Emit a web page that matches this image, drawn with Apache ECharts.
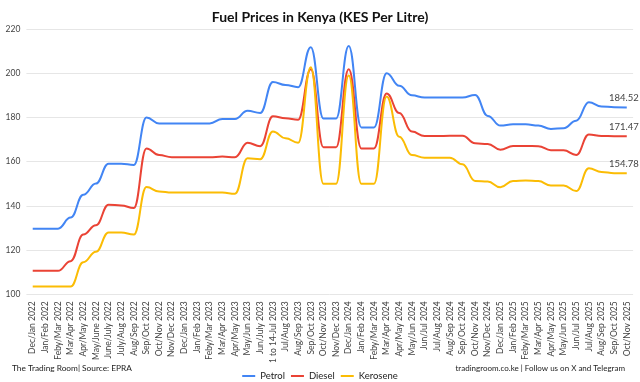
<!DOCTYPE html>
<html>
<head>
<meta charset="utf-8">
<script src="https://cdn.jsdelivr.net/npm/echarts@6/dist/echarts.min.js"></script>
<style>
html,body{margin:0;padding:0;background:#fff;}
#chart{width:640px;height:382px;}
</style>
</head>
<body>
<div id="chart"></div>
<script>
const categories = [
  "Dec/Jan 2022","Jan/Feb 2022","Feby/Mar 2022","Mar/Apr 2022","Apr/May 2022","May/June 2022",
  "June/July 2022","July/Aug 2022","Aug/Sep 2022","Sep/Oct 2022","Oct/Nov 2022","Nov/Dec 2022",
  "Dec/Jan 2023","Jan/Feb 2023","Feby/Mar 2023","Mar/Apr 2023","Apr/May 2023","May/Jun 2023",
  "Jun/July 2023","1 to 14-Jul 2023","Jul/Aug 2023","Aug/Sep 2023","Sep/Oct 2023","Oct/Nov 2023",
  "Nov/Dec 2023","Dec/Jan 2024","Jan/Feb 2024","Feby/Mar 2024","Mar/Apr 2024","Apr/May 2024",
  "May/Jun 2024","Jun/Jul 2024","Jul/Aug 2024","Aug/Sep 2024","Sep/Oct 2024","Oct/Nov 2024",
  "Nov/Dec 2024","Dec/Jan 2025","Jan/Feb 2025","Feby/Mar 2025","Mar/Apr 2025","Apr/May 2025",
  "May/Jun 2025","Jun/Jul 2025","Jul/Aug 2025","Aug/Sep 2025","Sep/Oct 2025","Oct/Nov 2025"
];
const petrol = [
  129.7,129.7,129.7,134.7,145.0,150.1,159.1,159.1,158.5,180.0,177.3,177.3,
  177.3,177.3,177.3,179.3,179.3,183.0,182.0,196.0,194.7,193.7,211.8,179.5,
  179.5,212.3,175.5,175.5,200.0,194.3,190.0,189.0,189.0,189.0,189.0,190.2,
  180.7,176.3,176.9,176.9,176.3,174.8,175.1,178.5,186.9,185.0,184.6,184.52
];
const diesel = [
  110.6,110.6,110.6,115.0,127.0,131.2,140.5,140.2,139.0,166.0,163.0,162.0,
  162.0,162.0,162.0,162.3,162.0,168.5,167.0,180.5,179.6,179.0,201.8,166.5,
  166.5,201.8,166.0,166.0,190.8,182.0,173.6,171.6,171.6,171.7,171.7,168.3,
  168.0,165.4,167.1,167.1,167.0,165.2,165.1,163.0,172.3,171.6,171.5,171.47
];
const kerosene = [
  103.5,103.5,103.5,103.5,114.5,119.2,128.0,128.0,127.0,148.5,146.5,146.0,
  146.0,146.0,146.0,146.0,145.5,161.5,161.1,173.6,170.6,168.5,202.7,150.0,
  150.0,199.0,150.0,150.0,189.5,171.3,163.0,161.8,161.8,161.8,158.8,151.3,
  151.0,148.4,151.3,151.5,151.2,149.2,149.2,146.7,157.0,155.3,154.8,154.78
];
const yTicks = { min: 100, max: 220, interval: 20 };
const seriesNames = ["Petrol","Diesel","Kerosene"];
const colors = ["#4285F4","#EA4335","#FBBC04"];

function withEndLabel(arr){
  return arr.map((v,i)=> i===arr.length-1
    ? {value:v, label:{show:true, position:'top', distance:4, offset:[-3,0], formatter: String(v.toFixed(2)),
        color:'#444', fontSize:9.5, fontFamily:'Lato'}}
    : v);
}

const chart = echarts.init(document.getElementById('chart'), null, {renderer:'canvas'});
const dataSets = [petrol, diesel, kerosene];
chart.setOption({
  animation:false,
  backgroundColor:'#fff',
  title:{
    text:'Fuel Prices in Kenya (KES Per Litre)',
    left:'center', top:5,
    textStyle:{fontFamily:'Lato', fontWeight:'bold', fontSize:14, color:'#111'}
  },
  grid:{left:26.4, right:640-633.1, top:29, bottom:382-294.3, containLabel:false},
  legend:{
    data:seriesNames, top:366, left:'center',
    icon:'rect', itemWidth:13, itemHeight:2, itemGap:6,
    textStyle:{fontFamily:'Lato', fontSize:9.5, color:'#222'}
  },
  xAxis:{
    type:'category', data:categories, boundaryGap:true,
    axisLine:{show:false}, axisTick:{show:false},
    axisLabel:{rotate:90, interval:0, fontSize:8.5, color:'#444', fontFamily:'Lato', margin:7}
  },
  yAxis:{
    type:'value', min:yTicks.min, max:yTicks.max, interval:yTicks.interval,
    axisLine:{show:false}, axisTick:{show:false},
    axisLabel:{fontSize:8.5, color:'#444', fontFamily:'Lato', margin:6},
    splitLine:{lineStyle:{color:'#e6e6e6', width:1}}
  },
  series: seriesNames.map((n,k)=>({
    name:n, type:'line', data:withEndLabel(dataSets[k]),
    smooth:0.45, smoothMonotone:'x', symbol:'circle', symbolSize:0.01, showSymbol:true, showAllSymbol:true,
    lineStyle:{color:colors[k], width:2}, itemStyle:{color:colors[k]},
    emphasis:{disabled:true}
  })),
  graphic:[
    {type:'text', left:12, top:364, style:{text:'The Trading Room| Source: EPRA', fontFamily:'Lato', fontSize:8.3, fill:'#222'}},
    {type:'text', right:15, top:364, style:{text:'tradingroom.co.ke | Follow us on X and Telegram', fontFamily:'Lato', fontSize:8, fill:'#222'}}
  ]
});
</script>
</body>
</html>
